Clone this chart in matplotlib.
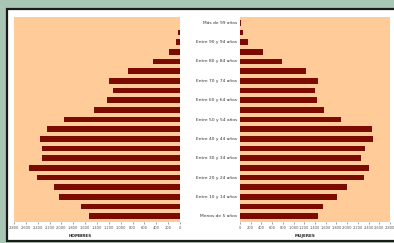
import matplotlib
matplotlib.use("Agg")
import matplotlib.pyplot as plt
from matplotlib.patches import Rectangle
from matplotlib.ticker import FuncFormatter

categories = ["Menos de 5 años", "Entre 5 y 9 años", "Entre 10 y 14 años", "Entre 15 y 19 años",
              "Entre 20 y 24 años", "Entre 25 y 29 años", "Entre 30 y 34 años", "Entre 35 y 39 años",
              "Entre 40 y 44 años", "Entre 45 y 49 años", "Entre 50 y 54 años", "Entre 55 y 59 años",
              "Entre 60 y 64 años", "Entre 65 y 69 años", "Entre 70 y 74 años", "Entre 75 y 79 años",
              "Entre 80 y 84 años", "Entre 85 y 89 años", "Entre 90 y 94 años", "Entre 95 y 99 años",
              "Más de 99 años"]
hombres = [1530, 1675, 2040, 2120, 2420, 2540, 2320, 2320, 2360, 2250,
           1955, 1445, 1235, 1125, 1200, 880, 460, 180, 70, 30, 5]
mujeres = [1455, 1545, 1805, 1990, 2320, 2410, 2250, 2330, 2485, 2465,
           1880, 1575, 1430, 1405, 1465, 1230, 785, 430, 155, 60, 25]
ticks = list(range(0, 2801, 200))

W, H = 394, 243
fig = plt.figure(figsize=(W / 100, H / 100), dpi=100)
fig.patch.set_facecolor("#a9c5b4")

# white panel with dark frame
frame = Rectangle((7 / W, 1 - 241 / H), 400 / W, 232 / H, transform=fig.transFigure,
                  facecolor="white", edgecolor="#1a1a1a", linewidth=1.6, zorder=-5)
fig.patches.append(frame)

bar_color = "#7b0a00"
bg = "#ffcc99"
ypos = list(range(len(categories)))

def fmt(v, p):
    return f"{int(v):,}".replace(",", ".")

y0 = 1 - 222 / H
hh = (222 - 17) / H
axL = fig.add_axes([14 / W, y0, (180 - 14) / W, hh])
axR = fig.add_axes([240 / W, y0, (390 - 240) / W, hh])

for ax, vals in ((axL, hombres), (axR, mujeres)):
    ax.set_facecolor(bg)
    ax.barh(ypos, vals, height=0.6, color=bar_color)
    ax.set_ylim(-0.6, 20.6)
    ax.set_xticks(ticks)
    ax.xaxis.set_major_formatter(FuncFormatter(fmt))
    ax.tick_params(axis="x", labelsize=2.6, length=1.5, width=0.4, pad=1.5, colors="#555555")
    ax.set_yticks([])
    for s in ax.spines.values():
        s.set_visible(False)

axL.set_xlim(2800, 0)
axR.set_xlim(0, 2800)

for i, c in enumerate(categories):
    if i % 2 == 0:
        axR.text(-3 / 150 * 2800, i, c, ha="right", va="center", fontsize=3.2, color="#333333")

fig.text(80 / W, 1 - 236 / H, "HOMBRES", ha="center", va="center", fontsize=3, color="#222222", fontweight="bold")
fig.text(305 / W, 1 - 236 / H, "MUJERES", ha="center", va="center", fontsize=3, color="#222222", fontweight="bold")

fig.savefig("out.png", dpi=100, facecolor=fig.get_facecolor())
